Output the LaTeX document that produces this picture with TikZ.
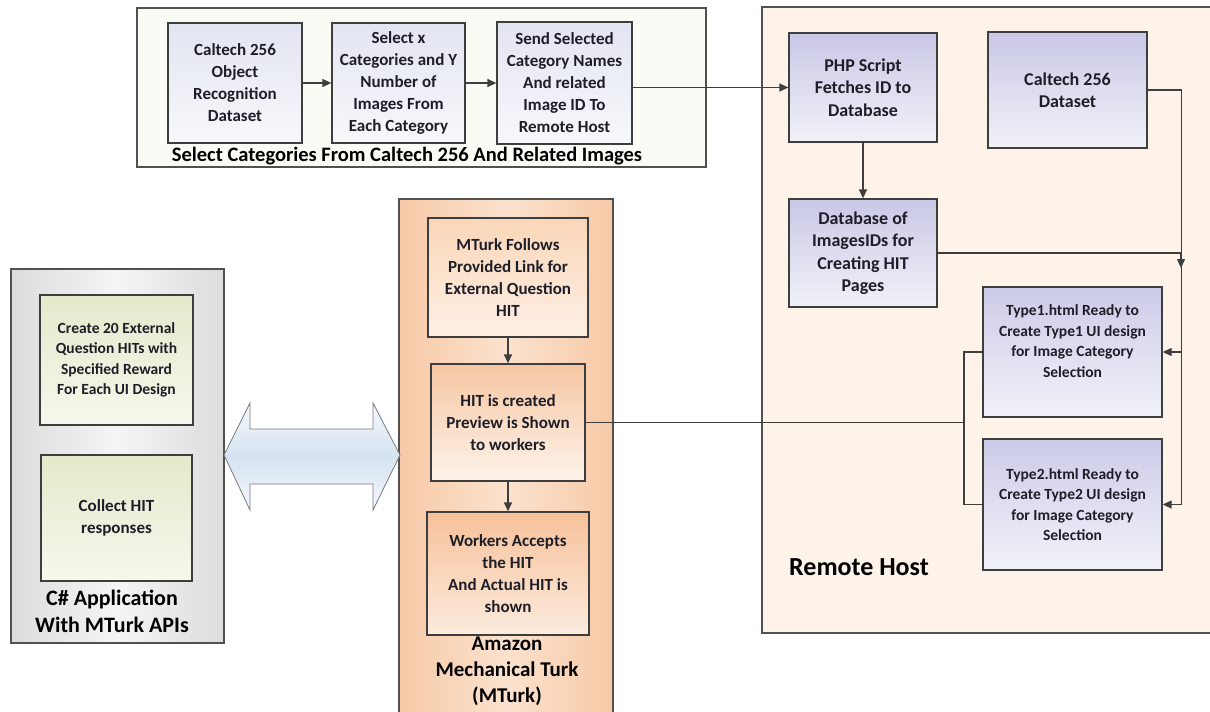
\documentclass[tikz,border=0pt]{standalone}
\usepackage{fontspec}
\setmainfont{Carlito}
\usetikzlibrary{arrows.meta,calc}
\definecolor{ln}{HTML}{3E3E3E}
\definecolor{txt}{HTML}{1E1E28}
\definecolor{topfill}{HTML}{FAFBF4}
\definecolor{lavA}{HTML}{E2E5F1}
\definecolor{lavB}{HTML}{C9C8E6}
\definecolor{lavC}{HTML}{CCCBE8}
\definecolor{remfill}{HTML}{FDF3E9}
\definecolor{orEdge}{HTML}{F7C9A6}
\definecolor{orMid}{HTML}{FBE2CE}
\definecolor{orAt}{HTML}{FAD6B8}
\definecolor{orAb}{HTML}{FDF0E5}
\definecolor{orBt}{HTML}{F6C6A2}
\definecolor{orBb}{HTML}{FDF3EA}
\definecolor{orCt}{HTML}{F6C19A}
\definecolor{orCb}{HTML}{FCEBDD}
\definecolor{grEdge}{HTML}{DCDCDC}
\definecolor{grMid}{HTML}{F5F5F5}
\definecolor{olT}{HTML}{E4E9CC}
\definecolor{olB}{HTML}{F6F8EC}
\definecolor{arEdge}{HTML}{7A7A7A}
\definecolor{arOut}{HTML}{F5F8FC}
\definecolor{arMid}{HTML}{D5E3F1}
\begin{document}
\begin{tikzpicture}[x=1pt,y=-1pt,
  outer/.style={draw=ln!90,line width=1.1pt,inner sep=0pt},
  ibox/.style={draw=ln,line width=1.3pt,inner sep=0pt,text=txt,align=center,font=\bfseries},
  lav/.style={ibox,top color=#1,bottom color=#1!25!white},
  arr/.style={draw=ln,line width=1.3pt,-{Triangle[length=9pt,width=8pt]}},
  con/.style={draw=ln,line width=1.3pt},
  f17/.style={font=\fontsize{17}{22}\selectfont\bfseries},
  f18/.style={font=\fontsize{18}{22.5}\selectfont\bfseries},
  f15/.style={font=\fontsize{15.5}{20.5}\selectfont\bfseries},
  lbl/.style={text=black,align=center,inner sep=0pt}
]
\useasboundingbox (0,0) rectangle (1210,712);
\clip (0,0) rectangle (1210,712);
\fill[white] (0,0) rectangle (1210,712);

% ---------- top group ----------
\node[outer,fill=topfill,minimum width=569pt,minimum height=159pt] (topgrp) at (421.5,87.5) {};
\node[lav=lavA,f17,minimum width=134pt,minimum height=120pt] (b1) at (235,83) {Caltech 256\\Object\\Recognition\\Dataset};
\node[lav=lavA,f17,minimum width=133pt,minimum height=120pt] (b2) at (398.5,83) {Select x\\Categories and Y\\Number of\\Images From\\Each Category};
\node[lav=lavA,f17,minimum width=135pt,minimum height=122pt] (b3) at (564.5,83) {Send Selected\\Category Names\\And related\\Image ID To\\Remote Host};
\node[lbl,font=\fontsize{20.5}{24}\selectfont\bfseries] (toplbl) at (407,156) {Select Categories From Caltech 256 And Related Images};

% ---------- remote host ----------
\node[outer,fill=remfill,minimum width=453pt,minimum height=626pt] (remote) at (988.5,320) {};
\node[lav=lavB,f18,minimum width=148pt,minimum height=109pt] (php) at (863,87.5) {PHP Script\\Fetches ID to\\Database};
\node[lav=lavB,f18,minimum width=159pt,minimum height=116pt] (cds) at (1067.5,90) {Caltech 256\\Dataset};
\node[lav=lavB,f18,minimum width=148pt,minimum height=108pt] (db) at (863,253) {Database of\\ImagesIDs for\\Creating HIT\\Pages};
\node[lav=lavC,minimum width=179pt,minimum height=130pt] (t1) at (1072.5,352) {};
\node[lbl,text=txt,f15] (t1txt) at (1072.5,341) {Type1.html Ready to\\Create Type1 UI design\\for Image Category\\Selection};
\node[lav=lavC,f15,minimum width=179pt,minimum height=131pt] (t2) at (1072.5,504.5) {Type2.html Ready to\\Create Type2 UI design\\for Image Category\\Selection};
\node[lbl,anchor=west,font=\fontsize{26}{30}\selectfont\bfseries] (rhlbl) at (789,567) {Remote Host};

% ---------- MTurk ----------
\node[outer,left color=orEdge,right color=orEdge,middle color=orMid,minimum width=214pt,minimum height=521pt] (mturk) at (506,459.5) {};
\node[ibox,top color=orAt,bottom color=orAb,f17,minimum width=160pt,minimum height=119pt] (m1) at (508,277.5) {MTurk Follows\\Provided Link for\\External Question\\HIT};
\node[ibox,top color=orBt,bottom color=orBb,f17,minimum width=154pt,minimum height=117pt] (m2) at (508,422.5) {HIT is created\\Preview is Shown\\to workers};
\node[ibox,top color=orCt,bottom color=orCb,f17,minimum width=162pt,minimum height=123pt] (m3) at (508,573.5) {Workers Accepts\\the HIT\\And Actual HIT is\\shown};
\node[lbl,font=\fontsize{21}{26}\selectfont\bfseries] (mtlbl) at (507,671) {Amazon\\Mechanical Turk\\(MTurk)};

% ---------- C# application ----------
\node[outer,left color=grEdge,right color=grEdge,middle color=grMid,minimum width=213pt,minimum height=374pt] (csharp) at (117.5,456) {};
\node[ibox,top color=olT,bottom color=olB,f15,minimum width=153pt,minimum height=130pt] (c1) at (116.5,360) {Create 20 External\\Question HITs with\\Specified Reward\\For Each UI Design};
\node[ibox,top color=olT,bottom color=olB,f17,minimum width=151pt,minimum height=126pt] (c2) at (116.5,518) {Collect HIT\\responses};
\node[lbl,font=\fontsize{22}{27}\selectfont\bfseries] (cslbl) at (112,611) {C\# Application\\With MTurk APIs};

% ---------- double arrow ----------
\path[draw=arEdge,line width=0.8pt,top color=arOut,bottom color=arOut,middle color=arMid]
  (224,455) -- (250,403) -- (250,429) -- (373,429) -- (373,403) -- (400,455)
  -- (373,510) -- (373,484) -- (250,484) -- (250,510) -- cycle;

% ---------- connectors ----------
\draw[arr] (b1.east) -- (b2.west);
\draw[arr] (b2.east) -- (b3.west);
\draw[arr] (b3.east |- php.west) -- (php.west);
\draw[arr] (php.south) -- (db.north);
\coordinate (rx2) at ($(t2.east)+(19,0)$);
\coordinate (rx1) at ($(t1.east)+(19,0)$);
\coordinate (dbj) at (1181,268);
\draw[arr] (cds.east) -| (rx2) -- (t2.east);
\draw[arr] (rx1) -- (t1.east);
\draw[arr] (db.east) -| (dbj);
\draw[arr] (m1.south) -- (m2.north);
\draw[arr] (m2.south) -- (m3.north);
\coordinate (split) at (964,422.5);
\draw[con] (m2.east) -- (split);
\draw[con] (t1.west) -| (split) |- (t2.west);
\end{tikzpicture}
\end{document}
